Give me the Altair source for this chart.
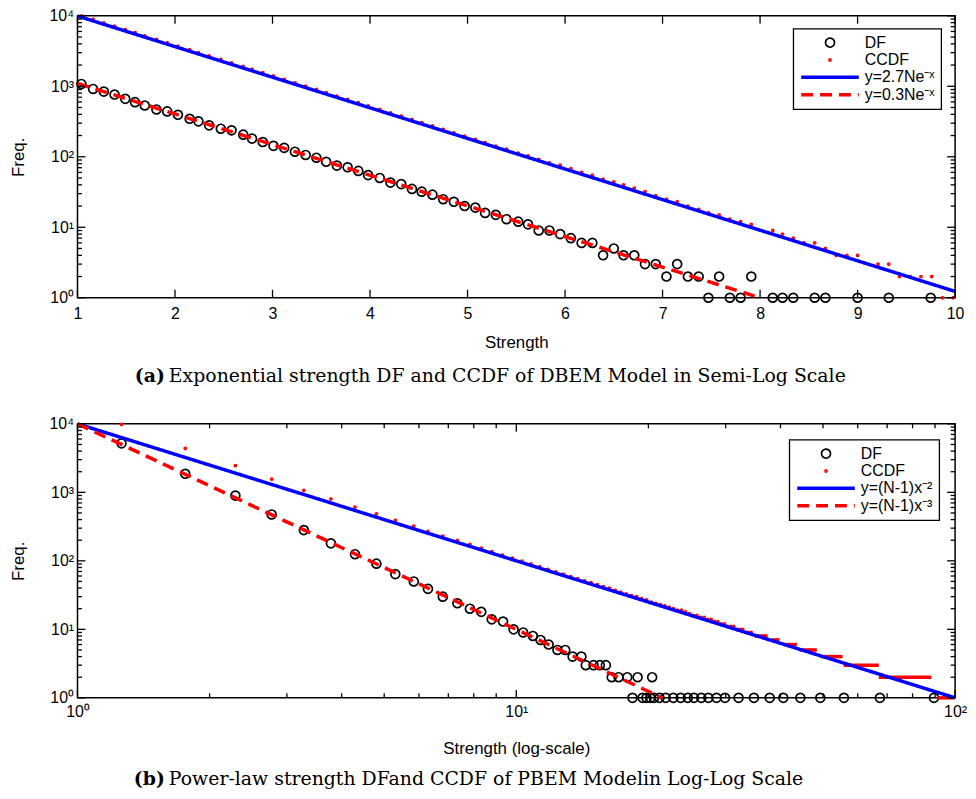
import altair as alt
import pandas as pd

# ---------------- Panel (a): semi-log, DBEM model ----------------
A_LABELS = ["DF", "CCDF", "y=2.7Ne\u207b\u02e3", "y=0.3Ne\u207b\u02e3"]
A_DF_X = [1.04, 1.16, 1.27, 1.38, 1.49, 1.59, 1.69, 1.81, 1.92, 2.03,
          2.15, 2.24, 2.35, 2.47, 2.58, 2.70, 2.79, 2.90, 3.01, 3.12,
          3.23, 3.34, 3.45, 3.55, 3.66, 3.77, 3.88, 3.98, 4.10, 4.21,
          4.32, 4.43, 4.53, 4.64, 4.75, 4.86, 4.97, 5.08, 5.18, 5.29,
          5.40, 5.52, 5.62, 5.73, 5.84, 5.95, 6.06, 6.17, 6.28, 6.39,
          6.50, 6.60, 6.71, 6.82, 6.93, 7.04, 7.15, 7.26, 7.37, 7.47,
          7.58, 7.69, 7.80, 7.91, 8.13, 8.23, 8.34, 8.56, 8.67, 9.00,
          9.32, 9.75]
A_DF_Y = [1079, 917, 841, 764, 664, 596, 535, 469, 440, 394,
          346, 318, 279, 250, 237, 206, 181, 162, 143, 134,
          118, 106, 97, 85, 75, 71, 63, 55, 50, 43,
          41, 35, 32, 29, 25, 23, 20, 19, 16, 15,
          13, 12, 11, 9, 9, 8, 7, 6, 6, 4,
          5, 4, 4, 3, 3, 2, 3, 2, 2, 1,
          2, 1, 1, 2, 1, 1, 1, 1, 1, 1,
          1, 1]
A_CC_X = [1.04, 1.16, 1.27, 1.38, 1.49, 1.59, 1.69, 1.81, 1.92, 2.03,
          2.15, 2.24, 2.35, 2.47, 2.58, 2.70, 2.79, 2.90, 3.01, 3.12,
          3.23, 3.34, 3.45, 3.55, 3.66, 3.77, 3.88, 3.98, 4.10, 4.21,
          4.32, 4.43, 4.53, 4.64, 4.75, 4.86, 4.97, 5.08, 5.18, 5.29,
          5.40, 5.52, 5.62, 5.73, 5.84, 5.95, 6.06, 6.17, 6.28, 6.39,
          6.50, 6.60, 6.71, 6.82, 6.93, 7.04, 7.15, 7.26, 7.37, 7.47,
          7.58, 7.69, 7.80, 7.91, 8.13, 8.23, 8.34, 8.45, 8.56, 8.67,
          8.78, 8.89, 9.00, 9.21, 9.32, 9.43, 9.54, 9.65, 9.76, 9.87,
          9.98]
A_CC_Y = [10000, 8900, 7960, 7140, 6380, 5760, 5200, 4640, 4150, 3700,
          3300, 3000, 2690, 2400, 2150, 1910, 1745, 1560, 1400, 1250,
          1120, 1005, 900, 812, 725, 650, 584, 527, 471, 421,
          378, 338, 305, 274, 245, 219, 196, 176, 159, 142,
          128, 113, 103, 92, 82, 76, 68, 60, 55, 48,
          44, 40, 36, 32, 28, 25, 23, 20, 18, 16,
          15, 13, 12, 11, 9, 8, 7, 6, 6, 5,
          4, 4, 4, 3, 3, 2, 2, 2, 2, 1,
          1]
A_FIT_X = [1, 10, 1, 8.0]
A_FIT_Y = [9930, 1.23, 1100, 1.0]
A_FIT_S = [A_LABELS[2], A_LABELS[2], A_LABELS[3], A_LABELS[3]]

# ---------------- Panel (b): log-log, PBEM model ----------------
B_LABELS = ["DF", "CCDF", "y=(N-1)x\u207b\u00b2", "y=(N-1)x\u207b\u00b3"]
B_DF_X = [1.26, 1.76, 2.29, 2.77, 3.28, 3.78, 4.29, 4.80, 5.30, 5.84,
          6.29, 6.80, 7.34, 7.84, 8.32, 8.79, 9.33, 9.86, 10.37, 10.91,
          11.36, 11.85, 12.41, 12.93, 13.44, 14.07, 14.4, 15.0, 15.5, 16.0,
          16.5, 17.1, 17.9, 18.9, 20.4, 18.4, 19.4, 19.8, 20.2, 20.6,
          21.2, 21.9, 22.8, 23.7, 24.6, 25.4, 26.4, 27.4, 28.6, 29.9,
          32.1, 34.8, 37.8, 40.6, 44.4, 49.3, 55.8, 67.4, 89.5]
B_DF_Y = [5190, 1866, 896, 475, 281, 180, 125, 91, 64, 50,
          39, 30, 24, 20, 18, 14, 13, 10, 9, 8,
          7, 6, 5, 5, 4, 4, 3, 3, 3, 3,
          2, 2, 2, 2, 2, 1, 1, 1, 1, 1,
          1, 1, 1, 1, 1, 1, 1, 1, 1, 1,
          1, 1, 1, 1, 1, 1, 1, 1, 1]
B_CC_X = [1.26, 1.76, 2.29, 2.77, 3.28, 3.78, 4.29, 4.80, 5.30, 5.84,
          6.29, 6.80, 7.34, 7.84, 8.32, 8.79, 9.3, 9.8, 10.3, 10.8,
          11.3, 11.8, 12.3, 12.8, 13.3, 13.8, 14.3, 14.8, 15.3, 15.8,
          16.3, 16.8, 17.3, 17.8, 18.3, 18.8, 19.3, 19.8, 20.3, 20.8,
          21.3, 21.8, 22.3, 22.8, 23.3, 23.8, 24.3, 24.8, 25.3, 25.8,
          26.3, 26.8, 27.3, 27.8, 28.3, 28.8, 29.3, 29.8, 30.3, 30.8,
          31.3, 31.8, 32.3, 32.8, 33.3, 33.8, 34.3]
B_CC_Y = [9800, 4390, 2460, 1560, 1070, 800, 607, 486, 389, 322,
          269, 230, 199, 174, 153, 136, 121, 109, 99, 90,
          82, 75, 69, 64, 59, 55, 51, 48, 45, 42,
          40, 37, 35, 33, 31, 30, 28, 27, 25, 24,
          23, 22, 21, 20, 19, 19, 18, 17, 16, 16,
          15, 15, 14, 14, 13, 13, 12, 12, 11, 11,
          11, 10, 10, 10, 9, 9, 9]
# CCDF tail: runs of tied values (dense dots forming flat steps)
B_STEP_LO = [34.9, 38.1, 40.9, 44.2, 49.4, 55.7, 67.0, 91.0]
B_STEP_HI = [37.4, 39.8, 43.6, 48.4, 55.4, 67.0, 88.3, 99.0]
B_STEP_Y = [8, 7, 6, 5, 4, 3, 2, 1]
B_FIT_X = [1, 100, 1, 21.5]
B_FIT_Y = [10000, 1, 10000, 1]
B_FIT_S = [B_LABELS[2], B_LABELS[2], B_LABELS[3], B_LABELS[3]]

# ---------------- tick positions ----------------
LIN_TICKS = [1, 2, 3, 4, 5, 6, 7, 8, 9, 10]
Y_MAJOR = [1, 10, 100, 1000, 10000]
Y_MINOR = [2, 3, 4, 5, 6, 7, 8, 9, 20, 30, 40, 50, 60, 70, 80, 90,
           200, 300, 400, 500, 600, 700, 800, 900,
           2000, 3000, 4000, 5000, 6000, 7000, 8000, 9000]
X_MAJOR = [1, 10, 100]
X_MINOR = [2, 3, 4, 5, 6, 7, 8, 9, 20, 30, 40, 50, 60, 70, 80, 90]

# ---------------- styles ----------------
FONT = "Liberation Sans"
SERIF = "DejaVu Serif"
STROKES = ["black", "red", "blue", "red"]
SHAPES = ["circle", "circle", "stroke", "stroke"]
SIZES = [81, 2, 3364, 3364]
WIDTHS = [1.7, 2.4, 3.5, 3.5]
DASHES = [[1, 0], [1, 0], [1, 0], [12, 7]]
POW = "'10' + ['\u2070','\u00b9','\u00b2','\u00b3','\u2074'][round(log(datum.value)/LN10)]"
MAJ, MIN = 8, 4.5


def axis(orient, values, **kw):
    opts = dict(orient=orient, values=values, tickSize=0, ticks=False,
                domain=False, grid=False, labelFlush=False, labelOverlap=False,
                labelFont=FONT, labelFontSize=16, labelColor="black",
                titleFont=FONT, titleFontSize=17, titleFontWeight="normal",
                titleColor="black")
    opts.update(kw)
    return alt.Axis(**opts)


def panel(w, h, labels, df_x, df_y, cc_x, cc_y, fx, fy, fs, xscale, yscale,
          x_axis, y_axis, x_major, x_minor, legend_xy, tag, caption, cap_dy, steps=None):
    leg = alt.Legend(title=None, orient="none", legendX=legend_xy[0],
                     legendY=legend_xy[1], strokeColor="black", fillColor="white",
                     padding=6, labelFont=FONT, labelFontSize=16, labelColor="black",
                     labelOffset=4, clipHeight=16, rowPadding=1.5, labelLimit=300)
    stroke = alt.Stroke("series:N", scale=alt.Scale(domain=labels, range=STROKES), legend=leg)
    shape = alt.Shape("series:N", scale=alt.Scale(domain=labels, range=SHAPES), legend=leg)
    size = alt.Size("series:N", scale=alt.Scale(type="ordinal", domain=labels, range=SIZES), legend=leg)
    sw = alt.StrokeWidth("series:N", scale=alt.Scale(type="ordinal", domain=labels, range=WIDTHS), legend=leg)
    dash = alt.StrokeDash("series:N", scale=alt.Scale(domain=labels, range=DASHES), legend=leg)

    df = pd.DataFrame({"x": df_x, "y": df_y, "series": labels[0]})
    cc = pd.DataFrame({"x": cc_x, "y": cc_y, "series": labels[1]})
    fits = pd.DataFrame({"x": fx, "y": fy, "series": fs})

    def X(f="x"):
        return alt.X(f + ":Q", scale=xscale, axis=x_axis)

    def Y(f="y"):
        return alt.Y(f + ":Q", scale=yscale, axis=y_axis)

    layers = [
        alt.Chart(df).mark_point(filled=False, opacity=1).encode(
            x=X(), y=Y(), stroke=stroke, shape=shape, size=size, strokeWidth=sw),
        alt.Chart(cc).mark_point(filled=False, fill="red", opacity=1).encode(
            x=X(), y=Y(), stroke=stroke, shape=shape, size=size, strokeWidth=sw),
    ]
    if steps is not None:
        st = pd.DataFrame({"x": steps[0], "x2": steps[1], "y": steps[2]})
        layers.append(alt.Chart(st).mark_rule(color="red", strokeWidth=3.5, strokeCap="butt").encode(
            x=X(), x2="x2:Q", y=Y()))
    layers.append(alt.Chart(fits).mark_line(strokeCap="butt", opacity=1).encode(
        x=X(), y=Y(), stroke=stroke, strokeWidth=sw, strokeDash=dash))

    # inward MATLAB-style ticks on all four sides, placed through the scales
    tick = dict(color="black", strokeWidth=1.3)
    for vals, ln in ((x_major, MAJ), (x_minor, MIN)):
        if not vals:
            continue
        tv = pd.DataFrame({"v": vals})
        layers.append(alt.Chart(tv).mark_rule(**tick).encode(
            x=X("v"), y=alt.value(h), y2=alt.value(h - ln)))
        layers.append(alt.Chart(tv).mark_rule(**tick).encode(
            x=X("v"), y=alt.value(0), y2=alt.value(ln)))
    for vals, ln in ((Y_MAJOR, MAJ), (Y_MINOR, MIN)):
        tv = pd.DataFrame({"v": vals})
        layers.append(alt.Chart(tv).mark_rule(**tick).encode(
            y=Y("v"), x=alt.value(0), x2=alt.value(ln)))
        layers.append(alt.Chart(tv).mark_rule(**tick).encode(
            y=Y("v"), x=alt.value(w), x2=alt.value(w - ln)))

    capdf = pd.DataFrame({"t": [tag], "c": [caption]})
    layers.append(alt.Chart(capdf).mark_text(font=SERIF, fontSize=19, fontWeight="bold",
                                             align="right", baseline="middle", color="black").encode(
        text="t:N", x=alt.value(88), y=alt.value(h + cap_dy)))
    layers.append(alt.Chart(capdf).mark_text(font=SERIF, fontSize=19, align="left",
                                             baseline="middle", color="black").encode(
        text="c:N", x=alt.value(92), y=alt.value(h + cap_dy)))
    return alt.layer(*layers).properties(width=w, height=h)


ylog = alt.Scale(type="log", domain=[1, 10000], nice=False)
yax = axis("left", Y_MAJOR, labelExpr=POW, labelPadding=4, title="Freq.", titlePadding=22)

top = panel(
    884, 284, A_LABELS, A_DF_X, A_DF_Y, A_CC_X, A_CC_Y, A_FIT_X, A_FIT_Y, A_FIT_S,
    alt.Scale(type="linear", domain=[1, 10], nice=False, zero=False), ylog,
    axis("bottom", LIN_TICKS, format="d", labelPadding=8, title="Strength", titlePadding=13),
    yax, LIN_TICKS, [], (721, 13), "(a)",
    "Exponential strength DF and CCDF of DBEM Model in Semi-Log Scale", 79)

bottom = panel(
    884, 276, B_LABELS, B_DF_X, B_DF_Y, B_CC_X, B_CC_Y, B_FIT_X, B_FIT_Y, B_FIT_S,
    alt.Scale(type="log", domain=[1, 100], nice=False), ylog,
    axis("bottom", X_MAJOR, labelExpr=POW, labelPadding=6,
         title="Strength (log-scale)", titlePadding=21),
    yax, X_MAJOR, X_MINOR, (717, 16), "(b)",
    "Power-law strength DFand CCDF of PBEM Modelin Log-Log Scale", 82,
    steps=(B_STEP_LO, B_STEP_HI, B_STEP_Y))

chart = alt.vconcat(top, bottom, spacing=28).resolve_scale(
    x="independent", y="independent", stroke="independent", shape="independent",
    size="independent", strokeWidth="independent", strokeDash="independent"
).properties(
    padding={"left": 0, "top": -4, "right": 0, "bottom": 0}, background="white"
).configure_view(stroke="black", strokeWidth=1.5).configure_legend(strokeWidth=1.3)

chart.save("out.html", embed_options={"renderer": "svg", "actions": False})
